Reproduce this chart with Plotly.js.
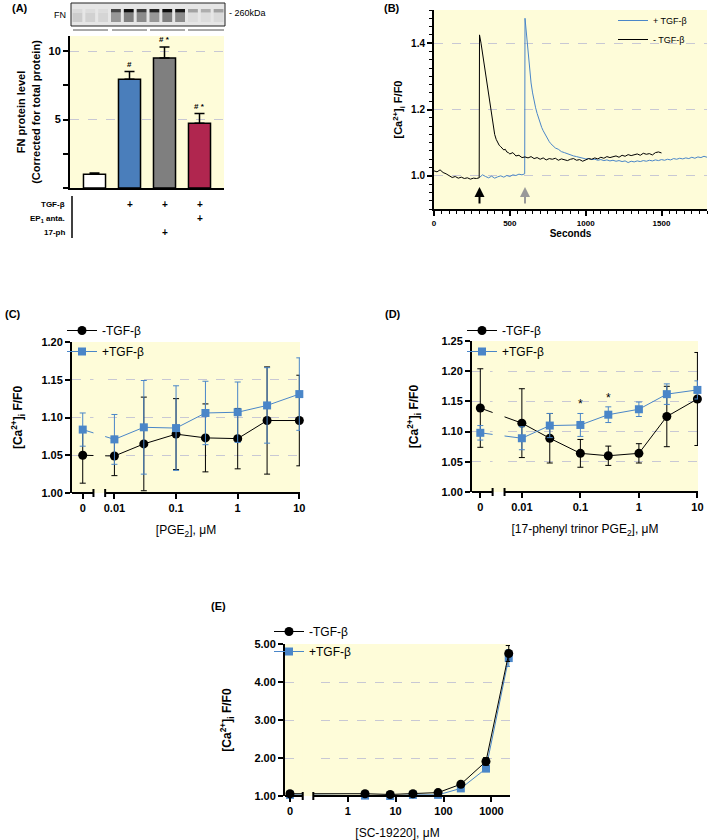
<!DOCTYPE html>
<html><head><meta charset="utf-8">
<script src="https://cdn.plot.ly/plotly-3.0.1.min.js"></script>
<style>html,body{margin:0;padding:0;background:#fff}#chart{width:709px;height:840px}</style>
</head><body><div id="chart"></div>
<script>
// ================= DATA =================
// Panel A – FN protein level
const groupsA = ['Control', 'TGF-β', 'TGF-β + 17-ph', 'TGF-β + EP1 anta.'];
const fnLevel = [1.0, 7.95, 9.5, 4.72];
const fnErr = [0.1, 0.55, 0.8, 0.72];
const fnSig = ['', '#', '# *', '# *'];
const tableRowLabels = ['TGF-β', 'EP<sub>1</sub> anta.', '17-ph'];
const rowTGF = ['', '+', '+', '+'];
const rowEP1 = ['', '', '', '+'];
const row17ph = ['', '', '+', ''];

// Panel B – calcium traces (seconds, F/F0)
const timeMinus = [0,20,40,60,80,100,120,140,160,180,200,220,240,260,280,298,
  300,310,320,330,340,350,360,370,380,390,400,410,420,430,440,450,460,470,480,490,500,
  520,540,560,580,600,620,640,660,680,700,720,740,760,780,800,820,840,860,880,900,920,940,960,980,
  1000,1020,1040,1060,1080,1100,1120,1140,1160,1180,1200,1220,1240,1260,1280,1300,1320,1340,1360,1380,1400,1420,1440,1460,1480,1500];
const caMinus = [1.015,1.012,1.018,1.010,1.006,1.000,0.995,0.998,0.993,0.996,0.992,0.994,0.990,0.993,0.992,0.994,
  1.425,1.400,1.370,1.340,1.310,1.280,1.245,1.210,1.180,1.150,1.125,1.110,1.100,1.092,1.088,1.082,1.078,1.080,1.072,1.070,1.066,
  1.070,1.060,1.062,1.055,1.057,1.054,1.058,1.052,1.055,1.050,1.054,1.048,1.052,1.050,1.053,1.047,1.051,1.049,1.046,1.050,1.052,1.047,1.049,1.044,
  1.048,1.052,1.050,1.054,1.051,1.056,1.053,1.058,1.055,1.057,1.060,1.056,1.062,1.059,1.064,1.061,1.063,1.066,1.062,1.068,1.065,1.067,1.063,1.070,1.072,1.069];
const timePlus = [300,320,340,360,380,400,420,440,460,480,500,520,540,560,580,598,
  600,610,620,630,640,650,660,670,680,690,700,710,720,730,740,750,760,770,780,790,800,
  820,840,860,880,900,920,940,960,980,1000,1020,1040,1060,1080,1100,1120,1140,1160,1180,1200,1220,1240,1260,1280,
  1300,1320,1340,1360,1380,1400,1420,1440,1460,1480,1500,1520,1540,1560,1580,1600,1620,1640,1660,1680,1700,1720,1740,1760,1780,1800];
const caPlus = [0.995,1.003,0.998,0.994,0.999,0.993,0.997,1.000,0.996,1.001,0.998,1.003,1.001,1.005,1.003,1.006,
  1.475,1.420,1.370,1.320,1.280,1.250,1.225,1.205,1.188,1.172,1.158,1.146,1.136,1.127,1.118,1.110,1.103,1.097,1.092,1.087,1.084,
  1.080,1.073,1.070,1.066,1.064,1.060,1.058,1.055,1.054,1.051,1.052,1.049,1.050,1.047,1.049,1.046,1.048,1.045,1.047,1.044,1.046,1.043,1.045,1.040,
  1.044,1.042,1.045,1.043,1.046,1.044,1.047,1.045,1.048,1.046,1.049,1.047,1.050,1.048,1.052,1.050,1.053,1.051,1.054,1.052,1.056,1.053,1.057,1.055,1.059,1.056];
const addTimes = [300, 600];   // arrows: agonist addition (−TGF-β, +TGF-β)

// Panel C – PGE2
const concPGE2 = [0, 0.01, 0.03, 0.1, 0.3, 1, 3, 10];
const pgeMinus = [1.050, 1.049, 1.065, 1.078, 1.073, 1.072, 1.096, 1.096];
const pgeMinusErr = [0.037, 0.026, 0.062, 0.047, 0.045, 0.040, 0.071, 0.060];
const pgePlus = [1.084, 1.071, 1.087, 1.086, 1.106, 1.107, 1.116, 1.131];
const pgePlusErr = [0.022, 0.033, 0.062, 0.056, 0.042, 0.040, 0.050, 0.048];

// Panel D – 17-phenyl trinor PGE2
const conc17 = [0, 0.01, 0.03, 0.1, 0.3, 1, 3, 10];
const phMinus = [1.139, 1.114, 1.089, 1.064, 1.060, 1.064, 1.125, 1.154];
const phMinusErr = [0.065, 0.057, 0.041, 0.023, 0.016, 0.016, 0.050, 0.077];
const phPlus = [1.098, 1.089, 1.110, 1.111, 1.128, 1.137, 1.162, 1.169];
const phPlusErr = [0.012, 0.019, 0.020, 0.019, 0.013, 0.012, 0.017, 0.015];
const phSig = ['', '', '', '*', '*', '', '', ''];

// Panel E – SC-19220
const concSC = [0, 2.3, 7.7, 23, 77, 230, 770, 2300];
const scMinus = [1.06, 1.06, 1.04, 1.06, 1.09, 1.31, 1.91, 4.75];
const scMinusErr = [0.02, 0.02, 0.02, 0.02, 0.02, 0.04, 0.10, 0.21];
const scPlus = [1.03, 1.01, 1.00, 1.03, 1.03, 1.20, 1.72, 4.63];
const scPlusErr = [0.02, 0.02, 0.02, 0.02, 0.02, 0.03, 0.05, 0.22];

// ================= STYLE / LAYOUT =================
const W = 709, H = 840;
const FONT = 'Liberation Sans, Arial, Helvetica, sans-serif';
const YEL = '#fefcd9';
const GRID = '#c8c8d4';
const BLUE = '#4a86c8';
const barColors = ['#ffffff', '#4a7ebb', '#7f7f7f', '#b0264f'];
const CA_TITLE = '[Ca<sup>2+</sup>]<sub>i</sub> F/F0';

function dom(x0, x1, y0, y1) { return {x: [x0 / W, x1 / W], y: [1 - y1 / H, 1 - y0 / H]}; }
const bA = dom(70, 224, 36, 188), bB = dom(434, 707, 10, 209), bC = dom(72, 300, 342, 493),
      bD = dom(472, 698, 341, 492), bE = dom(285, 510, 644, 796);

// broken log axes: position of "0", axis range, break gap (log10 units)
const brkC = {lo: -2.688, hi: 1.011, zero: -2.514, g0: -2.34, g1: -2.15};
const brkD = {lo: -2.852, hi: 1.010, zero: -2.71, g0: -2.50, g1: -2.296};
const brkE = {lo: -1.309, hi: 3.388, zero: -1.205, g0: -0.939, g1: -0.718};
const pos = (c, b) => c === 0 ? b.zero : Math.log10(c);

const bold = (s) => ({family: FONT, size: s, color: '#000', weight: 700});
const norm = (s) => ({family: FONT, size: s, color: '#000'});

function doseTrace(conc, y, err, brk, xa, ya, name, plus, leg) {
  const c = plus ? BLUE : '#000';
  return {type: 'scatter', mode: 'lines+markers', x: conc.map(v => pos(v, brk)), y: y,
    xaxis: xa, yaxis: ya, name: name, legend: leg, legendgroup: leg + name,
    line: {color: c, width: 1},
    marker: {symbol: plus ? 'square' : 'circle', size: plus ? 8 : 9, color: c},
    error_y: {type: 'data', array: err, visible: true, color: c, thickness: 1, width: 3},
    cliponaxis: false, hoverinfo: 'skip'};
}

const traces = [
  {type: 'bar', x: groupsA, y: fnLevel, xaxis: 'x', yaxis: 'y', width: 0.63, showlegend: false,
   marker: {color: barColors, line: {color: '#000', width: 1.5}},
   error_y: {type: 'data', symmetric: false, array: fnErr, arrayminus: fnErr.map(() => 0), color: '#000', thickness: 1.5, width: 5}},
  {type: 'scatter', mode: 'lines', x: timePlus, y: caPlus, xaxis: 'x2', yaxis: 'y2', name: '+ TGF-β', legend: 'legend',
   legendgroup: 'bp', line: {color: BLUE, width: 1}},
  {type: 'scatter', mode: 'lines', x: timeMinus, y: caMinus, xaxis: 'x2', yaxis: 'y2', name: '- TGF-β', legend: 'legend',
   legendgroup: 'bm', line: {color: '#000', width: 1}},
  doseTrace(concPGE2, pgeMinus, pgeMinusErr, brkC, 'x3', 'y3', '-TGF-β', false, 'legend2'),
  doseTrace(concPGE2, pgePlus, pgePlusErr, brkC, 'x3', 'y3', '+TGF-β', true, 'legend2'),
  doseTrace(conc17, phMinus, phMinusErr, brkD, 'x4', 'y4', '-TGF-β', false, 'legend3'),
  doseTrace(conc17, phPlus, phPlusErr, brkD, 'x4', 'y4', '+TGF-β', true, 'legend3'),
  doseTrace(concSC, scPlus, scPlusErr, brkE, 'x5', 'y5', '+TGF-β', true, 'legend4'),
  doseTrace(concSC, scMinus, scMinusErr, brkE, 'x5', 'y5', '-TGF-β', false, 'legend4'),
];
// legend order in E: -TGF-β first
traces[8].legendrank = 1; traces[7].legendrank = 2;

const yBase = {showline: true, linecolor: '#000', linewidth: 2, ticks: 'outside', ticklen: 5, tickwidth: 2,
  tickcolor: '#000', showgrid: true, gridcolor: GRID, griddash: 'dash', gridwidth: 1, zeroline: false,
  tickfont: bold(11), fixedrange: true};
const xBroken = (b, dm, anchor, title, tv, tt) => ({domain: dm, anchor: anchor, range: [b.lo, b.hi],
  showline: false, showgrid: false, zeroline: false, ticks: 'outside', ticklen: 5, tickwidth: 2, tickcolor: '#000',
  tickvals: [b.zero].concat(tv), ticktext: tt, tickfont: bold(11), fixedrange: true,
  title: {text: title, font: norm(12), standoff: 12}});

function legendAt(xpx, ypx, size, gap) {
  return {x: xpx / W, y: 1 - ypx / H, xanchor: 'left', yanchor: 'top', bgcolor: 'rgba(0,0,0,0)',
    font: norm(size), tracegroupgap: gap, itemwidth: 30};
}

const layout = {
  width: W, height: H, margin: {l: 0, r: 0, t: 0, b: 0}, paper_bgcolor: '#fff', plot_bgcolor: YEL,
  font: {family: FONT, color: '#000'}, showlegend: true, hovermode: false,
  xaxis: {domain: bA.x, anchor: 'y', type: 'category', range: [-0.7, 3.7], showticklabels: false, ticks: '',
    showline: true, linecolor: '#000', linewidth: 2, showgrid: false, zeroline: false, fixedrange: true},
  yaxis: Object.assign({}, yBase, {domain: bA.y, anchor: 'x', range: [0, 11.1], tickvals: [5, 10],
    minor: {dtick: 2.5, tick0: 0, ticks: 'outside', ticklen: 5, tickwidth: 2, tickcolor: '#000', showgrid: false},
    title: {text: 'FN protein level<br>(Corrected for total protein)', font: bold(11), standoff: 6}}),
  xaxis2: {domain: bB.x, anchor: 'y2', range: [0, 1800], tickvals: [0, 500, 1000, 1500], showline: true, linecolor: '#000',
    linewidth: 2, ticks: 'outside', ticklen: 5, tickwidth: 2, tickcolor: '#000', showgrid: false, zeroline: false,
    minor: {dtick: 50, ticks: 'outside', ticklen: 3, tickwidth: 1, tickcolor: '#000', showgrid: false},
    tickfont: bold(8), fixedrange: true, title: {text: 'Seconds', font: bold(10), standoff: 2}},
  yaxis2: Object.assign({}, yBase, {domain: bB.y, anchor: 'x2', range: [0.9, 1.5], tickvals: [1.0, 1.2, 1.4],
    tickformat: '.1f', tickfont: bold(10),
    minor: {dtick: 0.025, tick0: 0.9, ticks: 'outside', ticklen: 3, tickwidth: 1, tickcolor: '#000', showgrid: false},
    title: {text: CA_TITLE, font: bold(11), standoff: 6}}),
  xaxis3: xBroken(brkC, bC.x, 'y3', '[PGE<sub>2</sub>], μM', [-2, -1, 0, 1], ['0', '0.01', '0.1', '1', '10']),
  yaxis3: Object.assign({}, yBase, {domain: bC.y, anchor: 'x3', range: [1.0, 1.2], dtick: 0.05, tickformat: '.2f',
    title: {text: CA_TITLE, font: bold(12), standoff: 16}}),
  xaxis4: xBroken(brkD, bD.x, 'y4', '[17-phenyl trinor PGE<sub>2</sub>], μM', [-2, -1, 0, 1], ['0', '0.01', '0.1', '1', '10']),
  yaxis4: Object.assign({}, yBase, {domain: bD.y, anchor: 'x4', range: [1.0, 1.25], dtick: 0.05, tickformat: '.2f',
    title: {text: CA_TITLE, font: bold(12), standoff: 20}}),
  xaxis5: xBroken(brkE, bE.x, 'y5', '[SC-19220], μM', [0, 1, 2, 3], ['0', '1', '10', '100', '1000']),
  yaxis5: Object.assign({}, yBase, {domain: bE.y, anchor: 'x5', range: [1.0, 5.0], tickvals: [1, 2, 3, 4, 5], tickformat: '.2f',
    title: {text: CA_TITLE, font: bold(12), standoff: 20}}),
  legend: legendAt(613, 6, 9, 0),
  legend2: legendAt(62, 316, 12, 2),
  legend3: legendAt(462, 316, 12, 2),
  legend4: legendAt(269, 617, 12, 1),
  shapes: [], annotations: []
};

// ---- broken-axis decorations (C, D, E)
[[brkC, 'x3', 'y3'], [brkD, 'x4', 'y4'], [brkE, 'x5', 'y5']].forEach(([b, xa, ya]) => {
  const yd = ya + ' domain';
  layout.shapes.push({type: 'rect', xref: xa, yref: yd, x0: b.g0, x1: b.g1, y0: 0, y1: 1, fillcolor: YEL, line: {width: 0}, layer: 'above'});
  layout.shapes.push({type: 'line', xref: xa, yref: yd, x0: b.lo, x1: b.g0, y0: 0, y1: 0, line: {color: '#000', width: 2}, layer: 'above'});
  layout.shapes.push({type: 'line', xref: xa, yref: yd, x0: b.g1, x1: b.hi, y0: 0, y1: 0, line: {color: '#000', width: 2}, layer: 'above'});
  [b.g0, b.g1].forEach(g => layout.shapes.push({type: 'line', xref: xa, yref: yd, ysizemode: 'pixel', yanchor: 0,
    x0: g, x1: g, y0: -4, y1: 4, line: {color: '#000', width: 2}, layer: 'above'}));
});

// ---- Panel A: blot image (drawn as shapes)
const bx0 = 71, bx1 = 225, by0 = 3, by1 = 26, nLanes = 12;
const px = v => v / W, py = v => 1 - v / H;
layout.shapes.push({type: 'rect', xref: 'paper', yref: 'paper', x0: px(bx0), x1: px(bx1), y0: py(by1), y1: py(by0),
  fillcolor: '#e6e6e6', line: {color: '#222', width: 1}});
const bandI = [0.06, 0.05, 0.05, 0.7, 0.95, 0.75, 0.85, 0.95, 0.9, 0.3, 0.25, 0.3];
const smearI = [0.12, 0.1, 0.08, 0.35, 0.45, 0.4, 0.35, 0.45, 0.4, 0.05, 0.05, 0.06];
const gray = v => { const g = Math.round(232 * (1 - v)); return `rgb(${g},${g},${g})`; };
const lw = (bx1 - bx0) / nLanes;
for (let i = 0; i < nLanes; i++) {
  const l0 = bx0 + i * lw + 1.5, l1 = bx0 + (i + 1) * lw - 1.5;
  layout.shapes.push({type: 'rect', xref: 'paper', yref: 'paper', x0: px(l0), x1: px(l1), y0: py(22), y1: py(12.5),
    fillcolor: gray(smearI[i]), line: {width: 0}});
  layout.shapes.push({type: 'rect', xref: 'paper', yref: 'paper', x0: px(l0), x1: px(l1), y0: py(12.5), y1: py(9),
    fillcolor: gray(bandI[i]), line: {width: 0}});
}
[[73, 108], [112, 147], [150, 185], [188, 224]].forEach(([a, b]) =>
  layout.shapes.push({type: 'line', xref: 'paper', yref: 'paper', x0: px(a), x1: px(b), y0: py(30), y1: py(30), line: {color: '#555', width: 1}}));
layout.annotations.push({xref: 'paper', yref: 'paper', x: px(68), y: py(15), xanchor: 'right', yanchor: 'middle', text: 'FN', showarrow: false, font: norm(9)});
layout.annotations.push({xref: 'paper', yref: 'paper', x: px(227), y: py(13), xanchor: 'left', yanchor: 'middle', text: '- 260kDa', showarrow: false, font: norm(9)});

// ---- Panel A: significance and treatment table
groupsA.forEach((g, i) => {
  if (fnSig[i]) layout.annotations.push({xref: 'x', yref: 'y', x: g, y: fnLevel[i] + fnErr[i], yanchor: 'bottom', yshift: 1,
    text: fnSig[i], showarrow: false, font: bold(8)});
});
const tableY = [204, 219, 232];
[rowTGF, rowEP1, row17ph].forEach((row, r) => {
  layout.annotations.push({xref: 'paper', yref: 'paper', x: px(67), y: py(tableY[r]), xanchor: 'right', yanchor: 'middle',
    text: tableRowLabels[r], showarrow: false, font: bold(8)});
  row.forEach((v, i) => { if (v) layout.annotations.push({xref: 'x', yref: 'paper', x: groupsA[i], y: py(tableY[r]),
    yanchor: 'middle', text: v, showarrow: false, font: bold(10)}); });
});
layout.shapes.push({type: 'line', xref: 'paper', yref: 'paper', x0: px(72), x1: px(72), y0: py(196), y1: py(238), line: {color: '#000', width: 1.5}});

// ---- Panel B arrows
const arrowColors = ['#000', '#999'];
addTimes.forEach((t, i) => layout.annotations.push({xref: 'x2', yref: 'y2', axref: 'x2', ayref: 'y2', x: t, y: 0.966, ax: t, ay: 0.912,
  text: '', showarrow: true, arrowhead: 2, arrowsize: 1, arrowwidth: 2, arrowcolor: arrowColors[i]}));

// ---- Panel D significance
conc17.forEach((c, i) => { if (phSig[i]) layout.annotations.push({xref: 'x4', yref: 'y4', x: pos(c, brkD), y: phPlus[i] + phPlusErr[i],
  yanchor: 'bottom', yshift: 0, text: phSig[i], showarrow: false, font: norm(12)}); });

// ---- Panel labels
[['(A)', 10, 8], ['(B)', 382, 8], ['(C)', 3, 314], ['(D)', 383, 314], ['(E)', 209, 606]].forEach(([t, x, y]) =>
  layout.annotations.push({xref: 'paper', yref: 'paper', x: px(x), y: py(y), xanchor: 'left', yanchor: 'middle',
    text: t, showarrow: false, font: bold(11)}));

Plotly.newPlot('chart', traces, layout, {displayModeBar: false, staticPlot: true});
</script></body></html>
